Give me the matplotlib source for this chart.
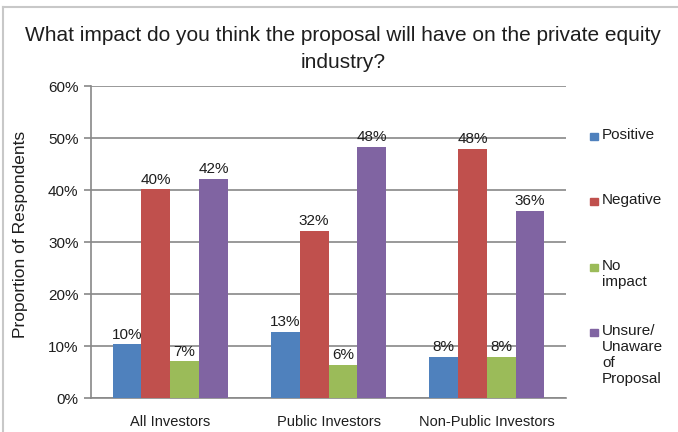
import numpy as np
import matplotlib
matplotlib.use('Agg')
import matplotlib.pyplot as plt
from matplotlib.patches import Rectangle
from matplotlib.lines import Line2D

plt.rcParams['font.family'] = ['Liberation Sans', 'DejaVu Sans']

groups = ['All Investors', 'Public Investors', 'Non-Public Investors']
series = ['Positive', 'Negative', 'No\nimpact', 'Unsure/\nUnaware\nof\nProposal']
positive = [10.3, 12.7, 7.96]
negative = [40.1, 32.1, 47.96]
no_impact = [7.06, 6.3, 7.96]
unsure = [42.1, 48.3, 35.96]
colors = ['#4F81BD', '#C0504D', '#9BBB59', '#8064A2']
yticks = [0, 10, 20, 30, 40, 50, 60]
title_lines = ['What impact do you think the proposal will have on the private equity',
               'industry?']

W, H = 678, 432
TXT = '#1e1e1e'
fig = plt.figure(figsize=(W / 100, H / 100), dpi=100)
ax = fig.add_axes([91 / W, 1 - 398 / H, (566 - 91) / W, (398 - 86) / H])

x = np.arange(len(groups))
bw = 0.182
for i, vals in enumerate([positive, negative, no_impact, unsure]):
    pos = x + (i - 1.5) * bw
    bars = ax.bar(pos, vals, bw, color=colors[i], zorder=3, linewidth=0)
    for b, v in zip(bars, vals):
        ax.annotate('%d%%' % round(v), (b.get_x() + b.get_width() / 2, v),
                    xytext=(0, 2), textcoords='offset points',
                    ha='center', va='bottom', fontsize=11, color=TXT, zorder=4)

ax.set_xlim(-0.5, 2.5)
ax.set_ylim(0, 60)
ax.set_yticks(yticks)
ax.set_yticklabels(['%d%%' % t for t in yticks], fontsize=11, color=TXT)
ax.set_xticks(x)
ax.set_xticklabels(groups, fontsize=10.5, color=TXT)
ax.tick_params(axis='x', length=0, pad=12)
ax.tick_params(axis='y', length=5, width=1.2, color='#888888', pad=4)
ax.yaxis.grid(True, color='#888888', linewidth=1.2, zorder=0)
ax.set_axisbelow(True)
for s in ['top', 'right']:
    ax.spines[s].set_visible(False)
for s in ['left', 'bottom']:
    ax.spines[s].set_color('#888888')
    ax.spines[s].set_linewidth(1.2)

fig.text(21 / W, 1 - 234.5 / H, 'Proportion of Respondents', rotation=90,
         ha='center', va='center', fontsize=12.5, color=TXT)

# title, two lines on fixed baselines
for line, base in zip(title_lines, [40.7, 68]):
    fig.text(343 / W, 1 - base / H, line, ha='center', va='baseline',
             fontsize=15, color=TXT)

# legend drawn by hand so multi-line labels hang from their first line
leg_y = [136, 201, 267, 332]
for lab, c, yy in zip(series, colors, leg_y):
    fig.patches.append(Rectangle((590 / W, 1 - (yy + 4) / H), 8 / W, 7 / H,
                                 transform=fig.transFigure, color=c, figure=fig))
    fig.text(602 / W, 1 - (yy - 8) / H, lab, ha='left', va='top', fontsize=11,
             color=TXT, linespacing=1.18)

# chart border (top and left edge)
fig.add_artist(Line2D([3 / W, 1], [1 - 7 / H, 1 - 7 / H], transform=fig.transFigure,
                      color='#c8c8c8', linewidth=1.5))
fig.add_artist(Line2D([3 / W, 3 / W], [0, 1 - 7 / H], transform=fig.transFigure,
                      color='#c8c8c8', linewidth=1.5))

fig.savefig('out.png', dpi=100)
